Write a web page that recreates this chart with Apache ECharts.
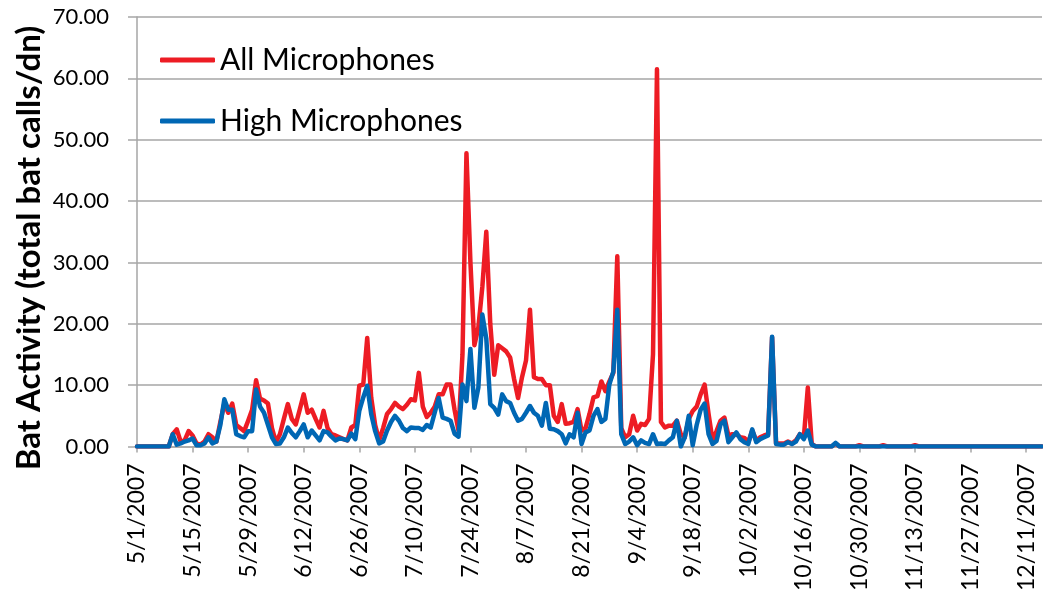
<!DOCTYPE html>
<html>
<head>
<meta charset="utf-8">
<title>Bat Activity</title>
<script src="https://cdn.jsdelivr.net/npm/echarts/dist/echarts.min.js"></script>
<style>
  html, body { margin: 0; padding: 0; background: #fff; }
  #myChart { width: 1043px; height: 594px; }
</style>
</head>
<body>
<div id="myChart"></div>
<script>
// dates: one point per night, 5/1/2007 .. 12/15/2007
const startYear = 2007, startMonth = 4, startDay = 1;
const dayCount = 229;

// All Microphones (total bat calls/dn), 10 values per row
const allMics = [
  0, 0, 0, 0, 0, 0, 0, 0, 0, 2.0,            // d0
  2.8, 0.8, 1.0, 2.5, 1.8, 0.5, 0.3, 0.8, 2.0, 1.5,
  0.8, 4.0, 7.0, 5.5, 7.0, 3.5, 3.0, 2.5, 4.2, 6.0,
  10.8, 7.8, 7.5, 7.0, 3.0, 0.7, 2.0, 4.5, 6.9, 4.5,
  3.6, 6.0, 8.5, 5.5, 6.0, 4.5, 3.1, 5.8, 3.0, 2.0,
  1.8, 1.5, 1.2, 1.0, 3.1, 3.5, 9.9, 10.1, 17.7, 8.0, // d50
  3.5, 1.0, 3.0, 5.3, 6.1, 7.1, 6.5, 6.1, 6.8, 7.7,
  7.5, 12.0, 6.5, 4.8, 5.5, 6.5, 8.5, 8.5, 10.1, 10.1,
  6.0, 2.6, 15.0, 47.8, 30.0, 16.5, 19.4, 26.0, 35.0, 20.0,
  11.7, 16.5, 16.0, 15.5, 14.5, 11.0, 7.9, 11.3, 14.0, 22.3,
  11.3, 11.0, 11.0, 10.0, 10.0, 5.0, 4.0, 6.9, 3.7, 3.8, // d100
  4.0, 6.1, 2.6, 3.0, 5.3, 8.0, 8.2, 10.6, 9.0, 10.6,
  12.0, 31.0, 3.0, 1.5, 2.0, 5.0, 2.6, 3.7, 3.5, 4.5,
  15.0, 61.5, 4.0, 3.1, 3.4, 3.4, 4.2, 2.0, 1.5, 4.5,
  5.8, 6.5, 8.5, 10.1, 5.3, 1.0, 2.5, 4.2, 4.7, 1.8,
  2.0, 2.0, 1.5, 1.4, 0.7, 2.6, 1.0, 1.5, 1.8, 2.0,  // d150
  17.8, 0.5, 0.5, 0.5, 0.8, 0.5, 1.0, 2.0, 1.5, 9.6,
  0.4, 0, 0, 0, 0, 0, 0.5, 0, 0, 0,
  0, 0, 0.2, 0, 0, 0, 0, 0, 0.2, 0,
  0, 0, 0, 0, 0, 0, 0.2, 0, 0, 0,
  0, 0, 0, 0, 0, 0, 0, 0, 0, 0,                      // d200
  0, 0, 0, 0, 0, 0, 0, 0, 0, 0,
  0, 0, 0, 0, 0, 0, 0, 0, 0
];

// High Microphones
const highMics = [
  0, 0, 0, 0, 0, 0, 0, 0, 0, 2.0,            // d0
  0.3, 0.5, 0.8, 1.0, 1.3, 0.2, 0.2, 0.5, 1.5, 0.5,
  0.8, 3.5, 7.7, 6.0, 6.0, 2.0, 1.7, 1.5, 2.5, 2.5,
  9.3, 6.5, 5.5, 3.5, 1.5, 0.4, 0.5, 1.5, 3.1, 2.2,
  1.5, 2.5, 3.6, 1.5, 2.6, 1.8, 1.0, 2.5, 2.3, 1.6,
  1.0, 1.3, 1.2, 1.0, 2.1, 1.2, 5.8, 8.0, 9.9, 5.3,  // d50
  2.5, 0.5, 0.8, 2.6, 4.0, 5.0, 4.2, 3.0, 2.5, 3.1,
  3.0, 3.0, 2.7, 3.5, 3.1, 5.5, 7.9, 4.7, 4.5, 4.2,
  2.1, 1.6, 10.1, 7.4, 15.9, 6.3, 9.6, 21.5, 17.6, 6.9,
  6.3, 5.2, 8.5, 7.4, 7.1, 5.5, 4.2, 4.5, 5.5, 6.6,
  5.5, 5.0, 3.4, 7.1, 2.9, 2.8, 2.5, 2.0, 0.5, 2.0,  // d100
  1.5, 5.5, 0.4, 2.3, 2.6, 5.0, 6.1, 4.0, 4.5, 10.1,
  12.2, 22.3, 2.0, 0.4, 0.8, 1.5, 0.2, 1.0, 0.6, 0.4,
  2.0, 0.4, 0.5, 0.4, 1.0, 1.5, 4.2, 0.0, 1.5, 5.0,
  0.2, 3.5, 6.0, 7.0, 2.0, 0.4, 0.9, 3.6, 4.2, 0.7,
  1.5, 2.3, 1.2, 0.7, 0.4, 2.8, 0.7, 1.2, 1.5, 1.8,  // d150
  17.9, 0.4, 0.3, 0.3, 0.7, 0.4, 0.8, 2.0, 1.2, 2.6,
  0.3, 0, 0, 0, 0, 0, 0.6, 0, 0, 0,
  0, 0, 0, 0, 0, 0, 0, 0, 0, 0,
  0, 0, 0, 0, 0, 0, 0, 0, 0, 0,
  0, 0, 0, 0, 0, 0, 0, 0, 0, 0,                      // d200
  0, 0, 0, 0, 0, 0, 0, 0, 0, 0,
  0, 0, 0, 0, 0, 0, 0, 0, 0
];

const seriesNames = ['All Microphones', 'High Microphones'];
const seriesColors = ['#ED1C24', '#0067B4'];
const yTicks = [0, 10, 20, 30, 40, 50, 60, 70];
const yTitle = 'Bat Activity (total bat calls/dn)';

// build m/d/yyyy labels for every night
const dates = [];
for (let i = 0; i < dayCount; i++) {
  const d = new Date(startYear, startMonth, startDay + i);
  dates.push((d.getMonth() + 1) + '/' + d.getDate() + '/' + d.getFullYear());
}

const font = 'Lato, "Open Sans", sans-serif';
const gridGray = '#A6A6A6';

const myChart = echarts.init(document.getElementById('myChart'));
myChart.setOption({
  animation: false,
  textStyle: { fontFamily: font },
  grid: { left: 137, right: 1, top: 17, bottom: 145, containLabel: false },
  legend: {
    orient: 'vertical',
    left: 155,
    top: 38,
    itemWidth: 55,
    itemHeight: 5,
    itemGap: 27,
    icon: 'roundRect',
    selectedMode: false,
    textStyle: { fontSize: 30, color: '#000', lineHeight: 34, fontFamily: font },
    data: seriesNames
  },
  xAxis: {
    type: 'category',
    data: dates,
    boundaryGap: false,
    axisLine: { lineStyle: { color: gridGray, width: 1.5 } },
    axisTick: { show: true, interval: 13, length: 6, lineStyle: { color: gridGray, width: 1.5 } },
    axisLabel: { interval: 13, rotate: 90, fontSize: 23, color: '#000', margin: 17, fontFamily: font }
  },
  yAxis: {
    type: 'value',
    min: yTicks[0],
    max: yTicks[yTicks.length - 1],
    interval: 10,
    axisLine: { show: true, lineStyle: { color: gridGray, width: 1.5 } },
    axisTick: { show: true, length: 9, lineStyle: { color: gridGray, width: 1.5 } },
    axisLabel: {
      fontSize: 22, color: '#000', margin: 28, fontFamily: font,
      formatter: (v) => v.toFixed(2)
    },
    splitLine: { lineStyle: { color: gridGray, width: 1.5 } }
  },
  // rotated y axis title
  graphic: [{
    type: 'text',
    x: 29,
    y: 248,
    rotation: Math.PI / 2,
    style: {
      text: yTitle,
      font: 'bold 33px ' + font,
      fill: '#000',
      align: 'center',
      verticalAlign: 'middle'
    }
  }],
  series: [
    {
      name: seriesNames[0],
      type: 'line',
      data: allMics,
      color: seriesColors[0],
      symbol: 'none',
      lineStyle: { width: 4.5, color: seriesColors[0], join: 'round', cap: 'round' }
    },
    {
      name: seriesNames[1],
      type: 'line',
      data: highMics,
      color: seriesColors[1],
      symbol: 'none',
      lineStyle: { width: 4.5, color: seriesColors[1], join: 'round', cap: 'round' }
    }
  ]
});
</script>
</body>
</html>
